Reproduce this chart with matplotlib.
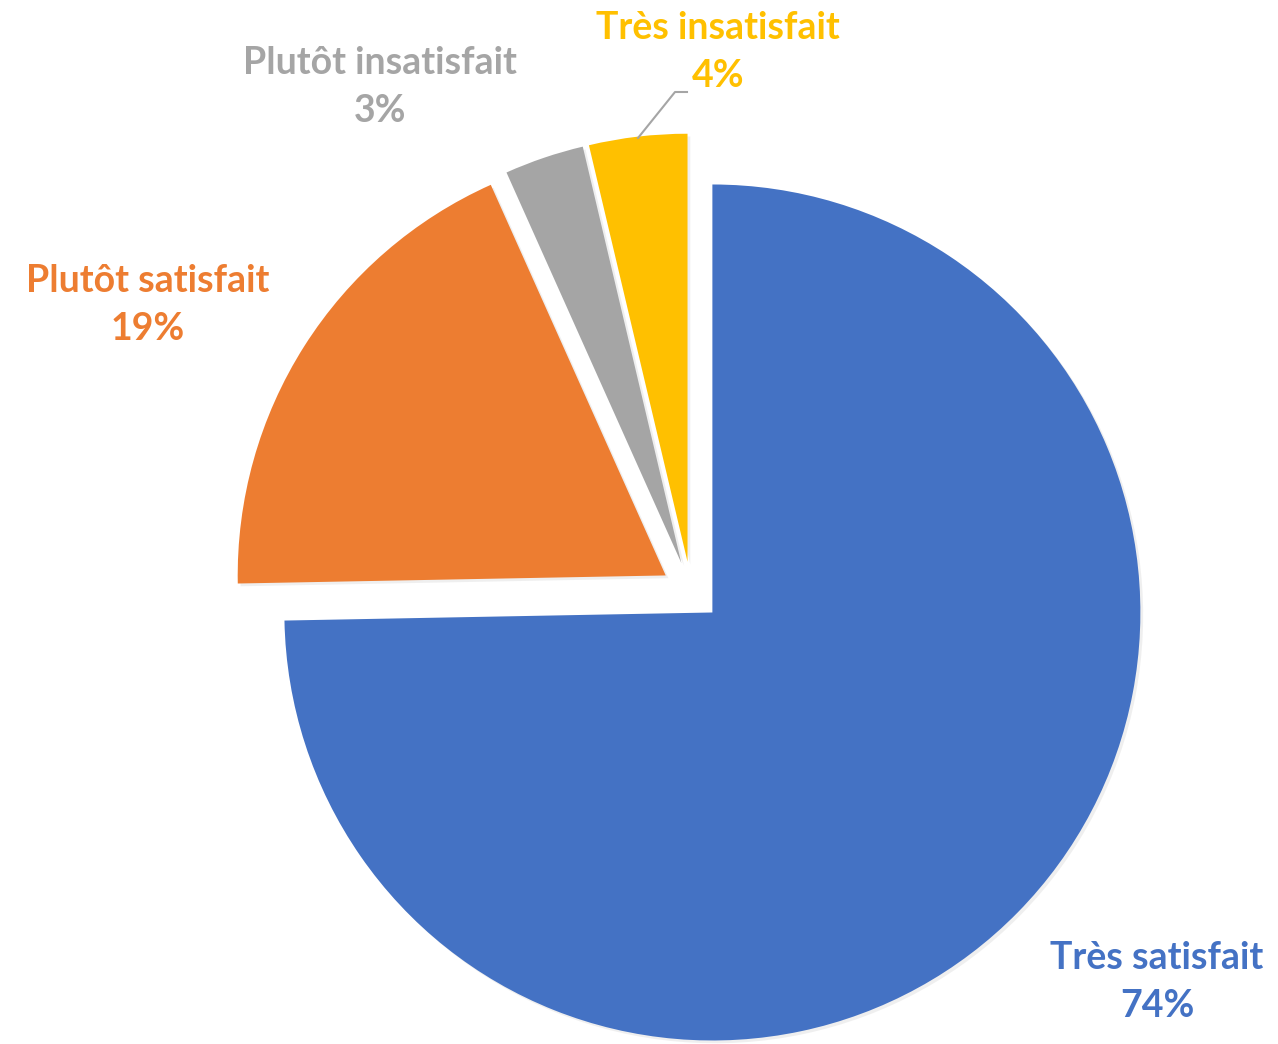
import matplotlib
matplotlib.use("Agg")
import matplotlib.pyplot as plt
import matplotlib.patheffects as pe

labels = ["Très satisfait", "Plutôt satisfait", "Plutôt insatisfait", "Très insatisfait"]
shares = [74.7, 18.6, 3.0, 3.7]          # wedge sizes as measured on the chart
pct_labels = ["74%", "19%", "3%", "4%"]  # percentages as printed
colors = ["#4472C4", "#ED7D31", "#A5A5A5", "#FFC000"]

W, H = 1278, 1044
cx, cy, R = 691, 591.5, 428   # pie centre / radius in pixels

fig = plt.figure(figsize=(W / 100, H / 100), dpi=100)
ax = fig.add_axes([0, 0, 1, 1])

wedges, _ = ax.pie(shares, colors=colors, startangle=90, counterclock=False,
                   explode=[0.07] * 4, radius=1,
                   wedgeprops=dict(linewidth=0))
for w in wedges:
    w.set_path_effects([pe.SimplePatchShadow(offset=(2, -2), shadow_rgbFace="#cccccc", alpha=0.3),
                        pe.Normal()])

# pie() resets the limits, so set them afterwards
ax.set_xlim(-cx / R, (W - cx) / R)
ax.set_ylim(-(H - cy) / R, cy / R)
ax.axis("off")

def px(x, y):
    return (x - cx) / R, (cy - y) / R

label_pos = [(1157, 982), (148, 305), (380, 87), (718, 52)]
for lab, pct, c, p in zip(labels, pct_labels, colors, label_pos):
    x, y = px(*p)
    ax.text(x, y, f"{lab}\n{pct}", color=c, fontsize=27, fontweight="bold",
            family="Lato", ha="center", va="center", linespacing=1.5)

# leader line for the small yellow slice
lx, ly = zip(px(638, 138), px(675, 92), px(687, 92))
ax.plot(lx, ly, color="#A5A5A5", lw=1.5)

fig.savefig("out.png", dpi=100)
